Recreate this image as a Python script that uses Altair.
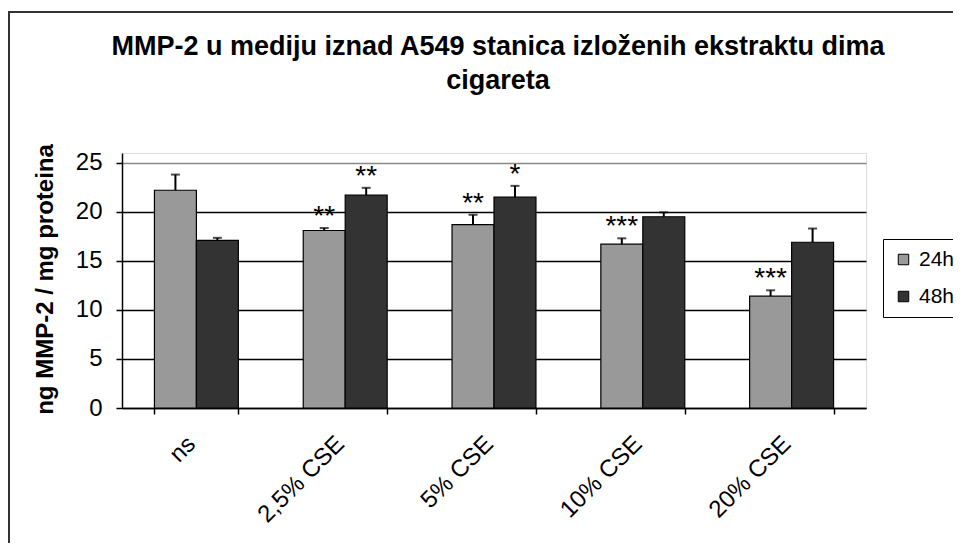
import altair as alt
import pandas as pd

categories = ["ns", "2,5% CSE", "5% CSE", "10% CSE", "20% CSE"]
series = ["24h", "48h"]
mean_24h = [22.2, 18.1, 18.7, 16.7, 11.4]
err_24h = [1.6, 0.25, 1.0, 0.6, 0.6]
mean_48h = [17.1, 21.7, 21.5, 19.5, 16.9]
err_48h = [0.25, 0.75, 1.15, 0.45, 1.4]
stars_24h = ["", "**", "**", "***", "***"]
stars_48h = ["", "**", "*", "", ""]

rows = []
for i, c in enumerate(categories):
    rows.append({"cat": c, "series": "24h", "mean": mean_24h[i], "err": err_24h[i],
                 "top": mean_24h[i] + err_24h[i], "stars": stars_24h[i]})
    rows.append({"cat": c, "series": "48h", "mean": mean_48h[i], "err": err_48h[i],
                 "top": mean_48h[i] + err_48h[i], "stars": stars_48h[i]})
df = pd.DataFrame(rows)

FONT = "Liberation Sans"

x = alt.X("cat:N", sort=categories, title=None,
          scale=alt.Scale(paddingInner=0.436, paddingOuter=0.218),
          axis=alt.Axis(labelAngle=-45, labelAlign="right", labelBaseline="middle",
                        labelPadding=26, labelOffset=-5, labelFontSize=24, labelFont=FONT,
                        labelColor="black",
                        tickBand="extent", tickSize=6, tickColor="black", tickWidth=1.5,
                        domainColor="black", domainWidth=1.5, grid=False))
xo = alt.XOffset("series:N", sort=series, scale=alt.Scale(paddingInner=0, paddingOuter=0))
y = alt.Y("mean:Q", scale=alt.Scale(domain=[0, 25]),
          axis=alt.Axis(values=[0, 5, 10, 15, 20, 25], title="ng MMP-2 / mg proteina",
                        titleFont=FONT, titleFontSize=24, titleFontWeight="bold", titleColor="black",
                        titleAngle=-90, titleX=-77, titleY=126, titleAlign="center",
                        titleBaseline="middle",
                        labelFontSize=24, labelFont=FONT, labelColor="black", labelPadding=14,
                        tickSize=6, tickColor="black", tickWidth=1.5,
                        domainColor="black", domainWidth=1.5,
                        grid=True, gridWidth=1.5,
                        gridColor={"condition": {"test": "datum.value >= 25", "value": "#888888"},
                                   "value": "black"}))

color = alt.Color("series:N", sort=series,
                  scale=alt.Scale(domain=series, range=["#999999", "#333333"]),
                  legend=alt.Legend(title=None, orient="none", legendX=761, legendY=86,
                                    symbolType="square", symbolSize=110, symbolStrokeColor="black",
                                    symbolStrokeWidth=1, labelFontSize=21, labelFont=FONT,
                                    labelOffset=5, labelColor="black", strokeColor="black",
                                    padding=10, rowPadding=15, fillColor="white"))

base = alt.Chart(df)

bars = base.mark_bar(stroke="black", strokeWidth=1.2).encode(x=x, xOffset=xo, y=y, color=color)
err_rule = base.mark_rule(color="black", strokeWidth=2).encode(
    x=x, xOffset=xo, y="mean:Q", y2="top:Q")
err_cap = base.mark_tick(color="black", thickness=2, size=9).encode(
    x=x, xOffset=xo, y="top:Q")
stars = base.mark_text(font=FONT, fontSize=28, baseline="alphabetic", dy=-3, color="black").encode(
    x=x, xOffset=xo, y="top:Q", text="stars:N")

frame = alt.Chart(pd.DataFrame({"k": [0]})).mark_rect(
    fill=None, stroke="#333333", strokeWidth=2, clip=False).encode(
    x=alt.value(-113), x2=alt.value(900), y=alt.value(-141), y2=alt.value(520))

chart = alt.layer(frame, bars, err_rule, err_cap, stars).properties(
    width=744, height=255,
    autosize=alt.AutoSizeParams(type="none"),
    padding={"left": 114, "top": 145, "right": 87, "bottom": 135},
    title=alt.TitleParams(["MMP-2 u mediju iznad A549 stanica izloženih ekstraktu dima", "cigareta"],
                          font=FONT, fontSize=27, fontWeight="bold", color="black",
                          anchor="middle", offset=-84, lineHeight=34, dx=4, frame="group"),
).configure_view(stroke="#888888", strokeWidth=1.5).configure(background="white")

chart.save("out.html", embed_options={"renderer": "svg", "actions": False})
